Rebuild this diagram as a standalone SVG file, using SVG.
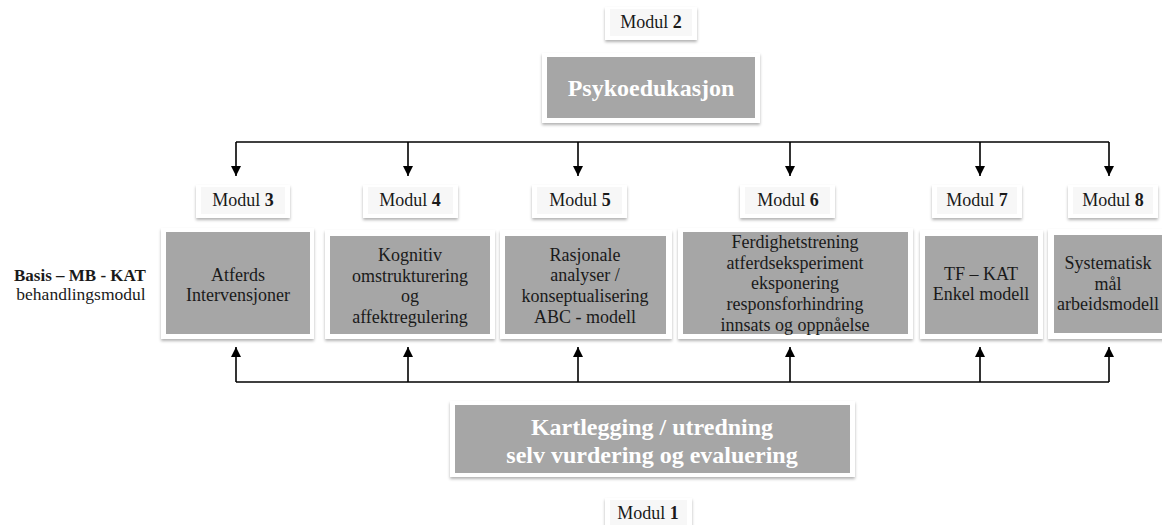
<svg xmlns="http://www.w3.org/2000/svg" width="1162" height="525" viewBox="0 0 1162 525">
<defs>
<filter id="sh" x="-10%" y="-20%" width="120%" height="150%">
<feDropShadow dx="0" dy="2" stdDeviation="1.5" flood-color="#000" flood-opacity="0.3"/>
</filter>
<marker id="ah" viewBox="0 0 10 12" refX="10" refY="6" markerWidth="10" markerHeight="12" markerUnits="userSpaceOnUse" orient="auto">
<path d="M0,1 L10,6 L0,11 Z" fill="#000"/>
</marker>
</defs>
<style>
.frame{fill:#fff;filter:url(#sh)}
.gray{fill:#a6a6a6}
.lab{fill:#f7f7f7}
.t{font-family:"Liberation Serif","Times New Roman",serif;font-size:18px;fill:#1a1a1a;text-anchor:middle}
.m{font-family:"Liberation Serif","Times New Roman",serif;font-size:18px;fill:#1a1a1a;text-anchor:middle}
.w{font-family:"Liberation Serif","Times New Roman",serif;font-size:24px;font-weight:bold;fill:#fff;text-anchor:middle}
.c{fill:none;stroke:#000;stroke-width:1.6}
</style>
<rect width="1162" height="525" fill="#fff"/>

<g id="connectors">
<path class="c" d="M236,142 H1109"/>
<path class="c" d="M236,142 V176" marker-end="url(#ah)"/>
<path class="c" d="M408,142 V176" marker-end="url(#ah)"/>
<path class="c" d="M578,142 V176" marker-end="url(#ah)"/>
<path class="c" d="M790,142 V176" marker-end="url(#ah)"/>
<path class="c" d="M980,142 V176" marker-end="url(#ah)"/>
<path class="c" d="M1109,142 V176" marker-end="url(#ah)"/>
<path class="c" d="M236,382 H1109"/>
<path class="c" d="M236,382 V347" marker-end="url(#ah)"/>
<path class="c" d="M408,382 V347" marker-end="url(#ah)"/>
<path class="c" d="M578,382 V347" marker-end="url(#ah)"/>
<path class="c" d="M790,382 V347" marker-end="url(#ah)"/>
<path class="c" d="M980,382 V347" marker-end="url(#ah)"/>
<path class="c" d="M1109,382 V347" marker-end="url(#ah)"/>
</g>

<g id="modul2">
<rect class="frame" x="605" y="7" width="92" height="33"/>
<rect class="lab" x="610" y="9" width="82" height="27"/>
<text class="m" x="651" y="28">Modul <tspan font-weight="bold">2</tspan></text>
</g>

<g id="psykoedukasjon">
<rect class="frame" x="542" y="53" width="218" height="70"/>
<rect class="gray" x="547" y="57" width="208" height="61"/>
<text class="w" x="651" y="96">Psykoedukasjon</text>
</g>

<g id="basis">
<text x="80" y="281" font-family="'Liberation Serif','Times New Roman',serif" font-size="17" font-weight="bold" fill="#1a1a1a" text-anchor="middle">Basis – MB - KAT</text>
<text x="81" y="300" font-family="'Liberation Serif','Times New Roman',serif" font-size="17.5" fill="#1a1a1a" text-anchor="middle">behandlingsmodul</text>
</g>

<g id="modul3">
<rect class="frame" x="196" y="185" width="94" height="33"/>
<rect class="lab" x="201" y="187" width="84" height="27"/>
<text class="m" x="243" y="206">Modul <tspan font-weight="bold">3</tspan></text>
</g>
<g id="box3">
<rect class="frame" x="161" y="228" width="153" height="111"/>
<rect class="gray" x="166" y="232" width="144" height="102"/>
<text class="t" x="238" y="281">Atferds</text>
<text class="t" x="238" y="301">Intervensjoner</text>
</g>

<g id="modul4">
<rect class="frame" x="363" y="185" width="95" height="33"/>
<rect class="lab" x="368" y="187" width="85" height="27"/>
<text class="m" x="410" y="206">Modul <tspan font-weight="bold">4</tspan></text>
</g>
<g id="box4">
<rect class="frame" x="325" y="230" width="170" height="109"/>
<rect class="gray" x="330" y="236" width="160" height="98"/>
<text class="t" x="410" y="261">Kognitiv</text>
<text class="t" x="410" y="282">omstrukturering</text>
<text class="t" x="410" y="302">og</text>
<text class="t" x="410" y="323">affektregulering</text>
</g>

<g id="modul5">
<rect class="frame" x="532" y="185" width="95" height="33"/>
<rect class="lab" x="537" y="187" width="85" height="27"/>
<text class="m" x="580" y="206">Modul <tspan font-weight="bold">5</tspan></text>
</g>
<g id="box5">
<rect class="frame" x="500" y="230" width="172" height="109"/>
<rect class="gray" x="505" y="236" width="161" height="98"/>
<text class="t" x="585" y="261">Rasjonale</text>
<text class="t" x="585" y="281">analyser /</text>
<text class="t" x="585" y="302">konseptualisering</text>
<text class="t" x="585" y="323">ABC - modell</text>
</g>

<g id="modul6">
<rect class="frame" x="740" y="185" width="95" height="33"/>
<rect class="lab" x="745" y="187" width="85" height="27"/>
<text class="m" x="788" y="206">Modul <tspan font-weight="bold">6</tspan></text>
</g>
<g id="box6">
<rect class="frame" x="678" y="228" width="235" height="111"/>
<rect class="gray" x="683" y="232" width="225" height="102"/>
<text class="t" x="795" y="248">Ferdighetstrening</text>
<text class="t" x="795" y="269">atferdseksperiment</text>
<text class="t" x="795" y="289">eksponering</text>
<text class="t" x="795" y="310">responsforhindring</text>
<text class="t" x="795" y="331">innsats og oppnåelse</text>
</g>

<g id="modul7">
<rect class="frame" x="932" y="185" width="90" height="33"/>
<rect class="lab" x="937" y="187" width="80" height="27"/>
<text class="m" x="977" y="206">Modul <tspan font-weight="bold">7</tspan></text>
</g>
<g id="box7">
<rect class="frame" x="920" y="230" width="123" height="109"/>
<rect class="gray" x="925" y="236" width="113" height="98"/>
<text class="t" x="981" y="280">TF – KAT</text>
<text class="t" x="981" y="300">Enkel modell</text>
</g>

<g id="modul8">
<rect class="frame" x="1068" y="185" width="90" height="33"/>
<rect class="lab" x="1073" y="187" width="80" height="27"/>
<text class="m" x="1113" y="206">Modul <tspan font-weight="bold">8</tspan></text>
</g>
<g id="box8">
<rect class="frame" x="1048" y="229" width="124" height="110"/>
<rect class="gray" x="1054" y="235" width="114" height="98"/>
<text class="t" x="1108" y="269">Systematisk</text>
<text class="t" x="1108" y="290">mål</text>
<text class="t" x="1108" y="310">arbeidsmodell</text>
</g>

<g id="kartlegging">
<rect class="frame" x="450" y="401" width="405" height="76"/>
<rect class="gray" x="455" y="405" width="395" height="68"/>
<text class="w" x="652" y="435">Kartlegging / utredning</text>
<text class="w" x="652" y="463">selv vurdering og evaluering</text>
</g>

<g id="modul1">
<rect class="frame" x="605" y="498" width="87" height="33"/>
<rect class="lab" x="610" y="500" width="77" height="27"/>
<text class="m" x="648" y="519">Modul <tspan font-weight="bold">1</tspan></text>
</g>
</svg>
